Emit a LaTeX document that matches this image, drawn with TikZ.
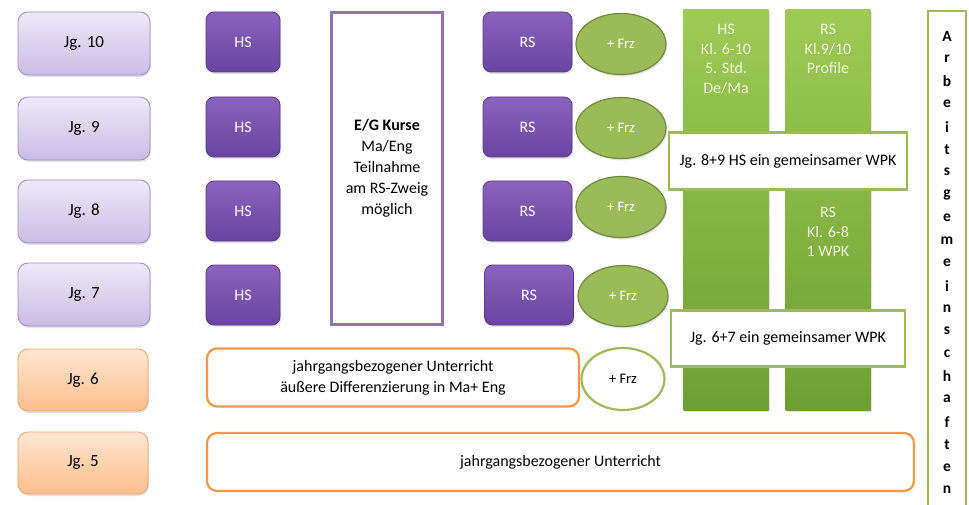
\documentclass[tikz,border=0pt]{standalone}
\usepackage{fontspec}
\setmainfont{Carlito}
\usetikzlibrary{shapes.geometric,shadows}
\definecolor{jgtop}{HTML}{EEE9F7}
\definecolor{jgbot}{HTML}{CBBCE5}
\definecolor{jgline}{HTML}{9A89C2}
\definecolor{hstop}{HTML}{8B63BE}
\definecolor{hsbot}{HTML}{6A43A0}
\definecolor{hsline}{HTML}{5A3A88}
\definecolor{egline}{HTML}{8F73B3}
\definecolor{frzfill}{HTML}{9BBB59}
\definecolor{frzline}{HTML}{6F8A3A}
\definecolor{coltop}{HTML}{9DCB55}
\definecolor{colbot}{HTML}{6F9E33}
\definecolor{gline}{HTML}{9BBB59}
\definecolor{ortop}{HTML}{FFE6D2}
\definecolor{orbot}{HTML}{FDBE8C}
\definecolor{orline}{HTML}{F79646}
\definecolor{orjline}{HTML}{E9A56E}
\definecolor{coltext}{HTML}{EEF6E2}
\begin{document}
\begin{tikzpicture}[x=1pt,y=-1pt,
  every node/.style={font=\fontsize{16}{21}\selectfont, align=center, inner sep=0pt},
  shd/.style={drop shadow={shadow xshift=1pt, shadow yshift=-2pt, opacity=0.22}},
  jgbox/.style={shd, rounded corners=10pt, draw=jgline, line width=0.8pt, top color=jgtop, bottom color=jgbot, minimum width=132pt, minimum height=63pt, text=black, font=\fontsize{17}{21}\selectfont},
  jgobox/.style={shd, rounded corners=10pt, draw=orjline, line width=0.8pt, top color=ortop, bottom color=orbot, minimum width=130pt, minimum height=62pt, text=black, font=\fontsize{17}{21}\selectfont},
  schoolbox/.style={shd, rounded corners=8pt, draw=hsline, line width=0.8pt, top color=hstop, bottom color=hsbot, minimum height=60pt, text=white},
  frz/.style={shd, ellipse, draw=frzline, line width=1.2pt, fill=frzfill, minimum width=90pt, minimum height=61pt, text=white, font=\fontsize{14.5}{16}\selectfont},
  column/.style={shd, top color=coltop, bottom color=colbot, minimum width=85pt, minimum height=400pt},
  coltxt/.style={text=coltext, font=\fontsize{16}{19.8}\selectfont},
  wpk/.style={draw=gline, line width=2.2pt, fill=white, text=black},
  orbox/.style={rounded corners=10pt, draw=orline, line width=2.2pt, fill=white, text=black}
]
\useasboundingbox (0,0) rectangle (969,505);

% left year boxes
\node[jgbox] (j10) at (84,43.5) {Jg. 10};
\node[jgbox] (j9) at (84,128.5) {Jg. 9};
\node[jgbox] (j8) at (84,211.5) {Jg. 8};
\node[jgbox] (j7) at (84,294.5) {Jg. 7};
\node[jgobox] (j6) at (83,380) {Jg. 6};
\node[jgobox] (j5) at (83,463) {Jg. 5};

% HS boxes
\node[schoolbox, minimum width=74pt] (hs10) at (243,42) {HS};
\node[schoolbox, minimum width=74pt] (hs9) at (243,127) {HS};
\node[schoolbox, minimum width=74pt] (hs8) at (243,211) {HS};
\node[schoolbox, minimum width=74pt] (hs7) at (243,295) {HS};

% E/G box
\node[draw=egline, line width=2.5pt, fill=white, minimum width=111pt, minimum height=312pt, text=black] (eg) at (387,168.5)
  {\textbf{E/G Kurse}\\Ma/Eng\\Teilnahme\\am RS-Zweig\\möglich};

% RS boxes
\node[schoolbox, minimum width=89pt] (rs10) at (527.5,42) {RS};
\node[schoolbox, minimum width=89pt] (rs9) at (527.5,127) {RS};
\node[schoolbox, minimum width=89pt] (rs8) at (527.5,211) {RS};
\node[schoolbox, minimum width=89pt] (rs7) at (529,295) {RS};

% Frz ellipses
\node[frz] (f10) at (621,44) {+ Frz};
\node[frz] (f9) at (621,128) {+ Frz};
\node[frz] (f8) at (621,207) {+ Frz};
\node[frz] (f7) at (623,296) {+ Frz};

% green columns
\node[column] (colhs) at (726,210) {};
\node[column] (colrs) at (828,210) {};
\node[coltxt, anchor=north] (colhst) at ([yshift=-14pt]colhs.north) {HS\\Kl. 6-10\\5. Std.\\De/Ma};
\node[coltxt, anchor=north] (colrst) at ([yshift=-14pt]colrs.north) {RS\\Kl.9/10\\Profile};
\node[coltxt] (colrsb) at (828,232) {RS\\Kl. 6-8\\1 WPK};

% WPK boxes
\node[wpk, minimum width=238pt, minimum height=57pt] (w89) at (788,161) {Jg. 8+9 HS ein gemeinsamer WPK};
\node[wpk, minimum width=234pt, minimum height=56pt] (w67) at (788,338.5) {Jg. 6+7 ein gemeinsamer WPK};

% Jg 6 row
\node[orbox, minimum width=372pt, minimum height=58pt] (u6) at (393,377.5) {jahrgangsbezogener Unterricht\\äußere Differenzierung in Ma+ Eng};
\node[ellipse, draw=gline, line width=2.2pt, fill=white, minimum width=83pt, minimum height=62pt, text=black, font=\fontsize{14.5}{16}\selectfont] (f6) at (623,379) {+ Frz};

% Jg 5 row
\node[orbox, minimum width=707pt, minimum height=58pt] (u5) at (560.5,462) {jahrgangsbezogener Unterricht};

% Arbeitsgemeinschaften
\node[draw=gline, line width=2.2pt, fill=white, minimum width=38pt, minimum height=505pt, anchor=north] (ag) at (947,10) {};
\foreach \ch [count=\i from 0] in {A,r,b,e,i,t,s,g,e,m,e,i,n,s,c,h,a,f,t,e,n}{
  \node[font=\bfseries\fontsize{15.5}{16}\selectfont, text=black] (ag\i) at (947,{36+22.7*\i}) {\ch};
}
\end{tikzpicture}
\end{document}
